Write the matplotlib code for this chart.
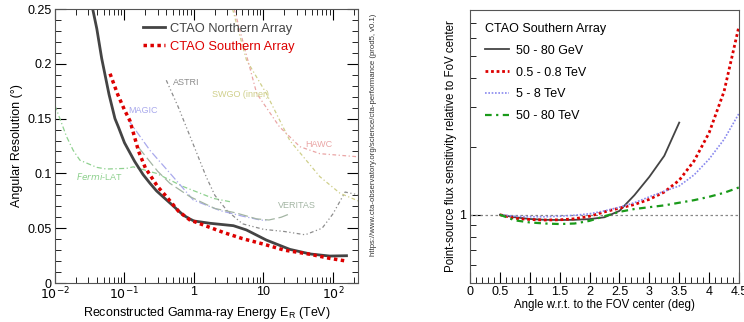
"""CTAO angular resolution vs energy and off-axis sensitivity."""

import matplotlib
matplotlib.use("Agg")
import matplotlib.pyplot as plt
from matplotlib.ticker import FixedLocator, FuncFormatter, MultipleLocator, NullFormatter

plt.rcParams['font.family'] = ['Liberation Sans', 'DejaVu Sans']

# ---- left panel: angular resolution ----
north_e = [0.03, 0.04, 0.047, 0.06, 0.073, 0.0815, 0.1, 0.14, 0.185, 0.233, 0.29, 0.4, 0.5,
           0.7, 0.875, 1.0, 1.7, 3.7, 5.7, 11, 24, 47, 90, 157]
north_r = [0.27, 0.232, 0.205, 0.172, 0.15, 0.1426, 0.128, 0.111, 0.099, 0.091, 0.084, 0.076,
           0.0705, 0.062, 0.0584, 0.0566, 0.0545, 0.0523, 0.0484, 0.0392, 0.0307, 0.0265,
           0.0246, 0.0249]

south_e = [0.062, 0.08, 0.1, 0.12, 0.16, 0.2, 0.3, 0.4, 0.6, 0.875, 1.5, 2.64, 5, 10, 20, 47,
           90, 157]
south_r = [0.191, 0.172, 0.158, 0.148, 0.12, 0.105, 0.088, 0.079, 0.0655, 0.0575, 0.052,
           0.0462, 0.0405, 0.0355, 0.030, 0.0262, 0.0225, 0.020]

fermi_e = [0.01, 0.0147, 0.0183, 0.0229, 0.04, 0.055, 0.107, 0.134, 0.29, 0.7, 1.9, 3.3]
fermi_r = [0.162, 0.1335, 0.121, 0.112, 0.1055, 0.104, 0.1046, 0.106, 0.100, 0.088, 0.0772, 0.0742]

magic_e = [0.113, 0.233, 0.5, 0.98, 2.4, 5, 9, 11]
magic_r = [0.149, 0.121, 0.097, 0.0757, 0.066, 0.061, 0.0575, 0.057]

veritas_e = [0.158, 0.3, 0.45, 0.875, 2, 4, 8, 12, 18, 25]
veritas_r = [0.124, 0.102, 0.091, 0.0788, 0.068, 0.064, 0.0585, 0.0575, 0.060, 0.0636]

astri_e = [0.4, 0.6, 1.0, 1.5, 2.0, 3.0, 5.0, 10, 20, 40, 70, 100, 150, 250]
astri_r = [0.185, 0.16, 0.125, 0.097, 0.08, 0.066, 0.054, 0.049, 0.047, 0.044, 0.05, 0.063,
           0.083, 0.08]

swgo_e = [3.6, 5.7, 11, 24, 65, 126, 250]
swgo_r = [0.25, 0.2035, 0.173, 0.13, 0.097, 0.082, 0.074]

hawc_e = [3.8, 8, 17, 33.5, 65, 250]
hawc_r = [0.25, 0.173, 0.1426, 0.1244, 0.118, 0.115]

# ---- right panel: off-axis sensitivity ----
angle = [0.5, 0.75, 1.0, 1.25, 1.5, 1.75, 2.0, 2.25, 2.5, 2.75, 3.0, 3.25, 3.5, 3.75, 4.0,
         4.25, 4.5]
sens_50gev = [1.0, 0.975, 0.958, 0.95, 0.948, 0.95, 0.957, 0.975, 1.04, 1.22, 1.47, 1.82, 2.55]
sens_05tev = [1.0, 0.965, 0.953, 0.948, 0.95, 0.96, 0.985, 1.03, 1.07, 1.11, 1.17, 1.26, 1.42,
              1.73, 2.3, 3.5, 6.8]
sens_5tev = [1.0, 0.985, 0.98, 0.98, 0.985, 0.995, 1.01, 1.04, 1.08, 1.13, 1.2, 1.27, 1.34,
             1.5, 1.76, 2.15, 2.8]
sens_50tev = [1.0, 0.945, 0.925, 0.915, 0.91, 0.915, 0.94, 0.985, 1.03, 1.06, 1.08, 1.1, 1.13,
              1.16, 1.2, 1.25, 1.32]

fig = plt.figure(figsize=(7.44, 3.22), dpi=100)

ax = fig.add_axes([0.0739, 0.1211, 0.4073, 0.8509])
bg = [
    (fermi_e, fermi_r, '#8fd18f', (0, (4, 2, 1, 2)), r'$\it{Fermi}$-LAT', 0.02, 0.0976),
    (magic_e, magic_r, '#a9a9ec', (0, (6, 2, 1, 2)), 'MAGIC', 0.112, 0.157),
    (veritas_e, veritas_r, '#a3b5a3', (0, (8, 3)), 'VERITAS', 16.2, 0.071),
    (astri_e, astri_r, '#8c8c8c', (0, (3, 2, 1, 2, 1, 2)), 'ASTRI', 0.5, 0.1825),
    (swgo_e, swgo_r, '#cfcf8a', (0, (3, 2, 1, 2)), 'SWGO (inner)', 1.82, 0.172),
    (hawc_e, hawc_r, '#eaa5a5', (0, (3, 2, 1, 2)), 'HAWC', 39.5, 0.126),
]
for e, r, c, ls, name, tx, ty in bg:
    ax.plot(e, r, color=c, ls=ls, lw=0.9)
    ax.text(tx, ty, name, color=c, fontsize=6.5, ha='left', va='center')

ax.plot(north_e, north_r, color='#444444', lw=2, label='CTAO Northern Array')
ax.plot(south_e, south_r, color='#dd0000', lw=2.5, ls=(0, (1, 1)), label='CTAO Southern Array')

ax.set_xscale('log')
ax.set_xlim(0.01, 230)
ax.set_ylim(0, 0.25)
ax.yaxis.set_major_locator(MultipleLocator(0.05))
ax.yaxis.set_minor_locator(MultipleLocator(0.01))
ax.yaxis.set_major_formatter(FuncFormatter(lambda v, p: '0' if v == 0 else f'{v:g}'))
ax.xaxis.set_major_locator(FixedLocator([0.01, 0.1, 1, 10, 100]))
xlab = {0.01: r'$10^{-2}$', 0.1: r'$10^{-1}$', 1: '1', 10: '10', 100: r'$10^{2}$'}
ax.xaxis.set_major_formatter(FuncFormatter(lambda v, p: xlab.get(round(v, 3), '')))
ax.xaxis.set_minor_formatter(NullFormatter())
ax.tick_params(which='both', direction='in', top=True, right=True, labelsize=9)
ax.tick_params(which='major', length=8)
ax.tick_params(which='minor', length=4)
ax.tick_params(axis='x', pad=2)
ax.tick_params(axis='y', pad=2.5)
ax.set_xlabel('Reconstructed Gamma-ray Energy E$_\\mathregular{R}$ (TeV)', fontsize=9, labelpad=2)
ax.set_ylabel('Angular Resolution (°)', fontsize=9, labelpad=3)
for s in ax.spines.values():
    s.set_color('#555555')

leg = ax.legend(loc='upper left', bbox_to_anchor=(0.29, 0.95), frameon=False, fontsize=9.3,
                handlelength=1.75, handletextpad=0.35, labelspacing=0.45,
                borderaxespad=0, borderpad=0)
for t, c in zip(leg.get_texts(), ['#444444', '#dd0000']):
    t.set_color(c)

fig.text(0.5015, 0.58, 'https://www.cta-observatory.org/science/cta-performance (prod5, v0.1)',
         rotation=90, fontsize=5.6, ha='center', va='center', color='#333333')

# right panel
ax2 = fig.add_axes([0.6317, 0.1211, 0.3616, 0.8478])
ax2.axhline(1, color='#888888', lw=0.9, ls=(0, (2, 2)))
ax2.plot(angle[:len(sens_50gev)], sens_50gev, color='#444444', lw=1.3, label='50 - 80 GeV')
ax2.plot(angle, sens_05tev, color='#dd0000', lw=2, ls=(0, (1, 1)), label='0.5 - 0.8 TeV')
ax2.plot(angle, sens_5tev, color='#8888ee', lw=1.2, ls=(0, (1, 1)), label='5 - 8 TeV')
ax2.plot(angle, sens_50tev, color='#1a9a1a', lw=1.6, ls=(0, (3, 2, 1, 2)), label='50 - 80 TeV')
ax2.set_yscale('log')
ax2.set_ylim(0.5, 8)
ax2.set_xlim(0, 4.5)
ax2.yaxis.set_major_locator(FixedLocator([1]))
ax2.yaxis.set_major_formatter(FuncFormatter(lambda v, p: '1'))
ax2.yaxis.set_minor_locator(FixedLocator([0.6, 0.7, 0.8, 0.9, 2, 3, 4, 5, 6, 7]))
ax2.yaxis.set_minor_formatter(NullFormatter())
ax2.xaxis.set_major_locator(MultipleLocator(0.5))
ax2.xaxis.set_minor_locator(MultipleLocator(0.1))
ax2.xaxis.set_major_formatter(FuncFormatter(lambda v, p: f'{v:g}'))
ax2.tick_params(which='both', direction='in', labelsize=9)
ax2.tick_params(which='major', length=8)
ax2.tick_params(which='minor', length=4)
ax2.tick_params(axis='x', pad=2)
ax2.tick_params(axis='y', pad=3)
ax2.set_xlabel('Angle w.r.t. to the FOV center (deg)', fontsize=8.3, labelpad=1)
ax2.set_ylabel('Point-source flux sensitivity relative to FoV center', fontsize=8.3, labelpad=1)
for s in ax2.spines.values():
    s.set_color('#555555')
leg2 = ax2.legend(loc='upper left', bbox_to_anchor=(0.056, 0.952), title='CTAO Southern Array',
                  frameon=False, fontsize=9, title_fontsize=9, handlelength=1.9,
                  handletextpad=0.55, labelspacing=0.78, borderaxespad=0, borderpad=0)
leg2._legend_box.align = 'left'

fig.savefig('out.png', dpi=100)
